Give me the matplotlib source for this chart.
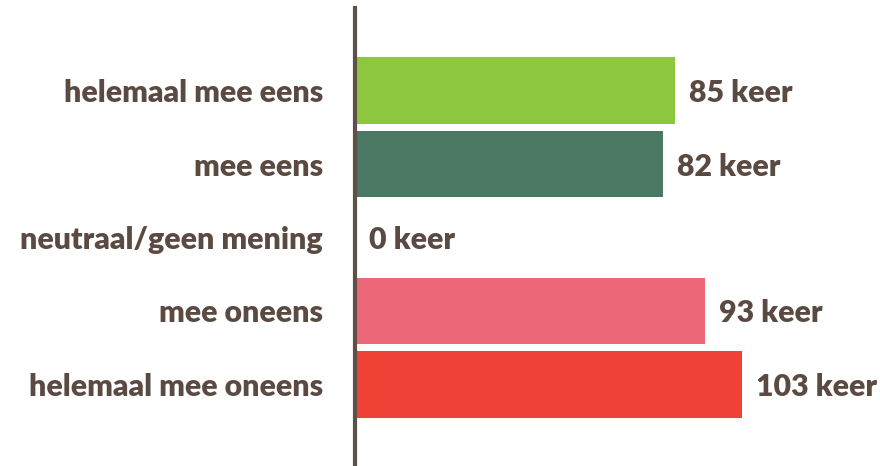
import matplotlib
matplotlib.use("Agg")
import matplotlib.pyplot as plt

categories = [
    "helemaal mee eens",
    "mee eens",
    "neutraal/geen mening",
    "mee oneens",
    "helemaal mee oneens",
]
counts = [85, 82, 0, 93, 103]
colors = ["#8dc63f", "#4a7863", "#8dc63f", "#ec6878", "#ef4136"]

text_color = "#5b4a42"
plt.rcParams["font.family"] = ["Lato", "DejaVu Sans"]
label_font = dict(fontsize=21.8, fontweight="heavy", color=text_color)

fig = plt.figure(figsize=(8.8, 4.66), dpi=100)
ax = fig.add_axes([355 / 880, 0, 525 / 880, 458 / 466])

positions = list(range(len(categories)))
ax.barh(positions, counts, height=0.91, color=colors, zorder=1)

for pos, value in zip(positions, counts):
    ax.annotate(
        f"{value} keer",
        xy=(value, pos),
        xytext=(14, 0),
        textcoords="offset pixels",
        va="center_baseline",
        ha="left",
        **label_font,
    )

ax.set_xlim(0, 525 / 3.76)
ax.set_ylim(4 + (466 - 384.5) / 73.5, -(90.5 - 8) / 73.5)
ax.set_yticks(positions)
ax.set_yticklabels(categories, va="center_baseline", **label_font)
ax.tick_params(axis="y", length=0, pad=23)
ax.set_xticks([])
for side in ["top", "right", "bottom"]:
    ax.spines[side].set_visible(False)
ax.spines["left"].set_color("#5e4f47")
ax.spines["left"].set_linewidth(3)
ax.spines["left"].set_zorder(3)

fig.savefig("out.png", dpi=100, facecolor="white")
